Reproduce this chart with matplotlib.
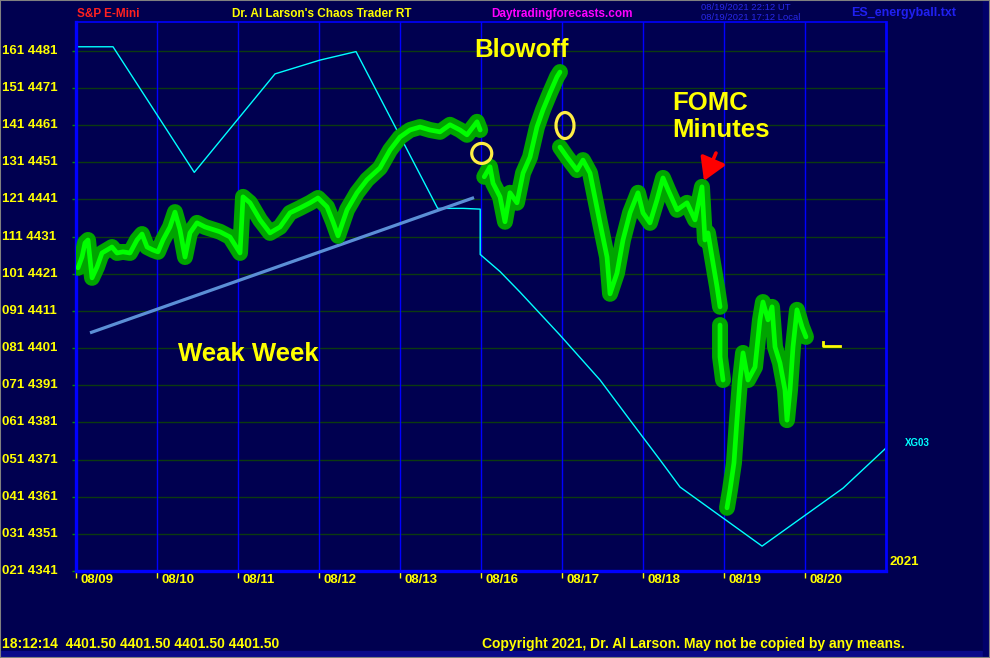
import numpy as np
import matplotlib
matplotlib.use("Agg")
from matplotlib import pyplot as plt
from matplotlib import transforms
from matplotlib.patches import Ellipse, Rectangle

plt.rcParams['font.family'] = ['Liberation Sans', 'DejaVu Sans']

# trading days (one unit per session), x axis runs 0..10
day_labels = ["08/09", "08/10", "08/11", "08/12", "08/13", "08/16", "08/17", "08/18", "08/19", "08/20"]

# price axis
price_ticks = [4341, 4351, 4361, 4371, 4381, 4391, 4401, 4411, 4421, 4431, 4441, 4451, 4461, 4471, 4481]
price_codes = ["021", "031", "041", "051", "061", "071", "081", "091", "101", "111", "121", "131", "141", "151", "161"]

# S&P e-mini path (day position, price); None splits sessions
es_day = [0.025, 0.074, 0.111, 0.148, 0.198, 0.259, 0.321, 0.383, 0.444, 0.506, 0.580, 0.667, 0.753, 0.815,
          0.877, 0.951, 1.012, 1.074, 1.160, 1.222, 1.284, 1.346, 1.407, 1.494, 1.593, 1.778, 1.901, 2.025,
          2.062, 2.148, 2.272, 2.395, 2.519, 2.642, 2.765, 2.889, 2.988, 3.099, 3.173, 3.235, 3.346, 3.469,
          3.593, 3.753, 3.877, 4.000, 4.123, 4.247, 4.370, 4.494, 4.617, 4.741, 4.827, 4.951, 4.990, None,
          5.040, 5.111, 5.148, 5.235, 5.296, 5.358, 5.444, 5.519, 5.605, 5.691, 5.765, 5.852, 5.938, 5.975, None,
          5.975, 6.062, 6.185, 6.259, 6.346, 6.469, 6.556, 6.593, 6.679, 6.753, 6.840, 6.938, 7.000, 7.086,
          7.173, 7.247, 7.309, 7.420, 7.543, 7.642, 7.728, 7.765, 7.802, 7.852, 7.914, 7.951, None,
          7.951, 7.951, 7.988, None,
          8.037, 8.074, 8.123, 8.160, 8.198, 8.235, 8.296, 8.383, 8.444, 8.481, 8.543, 8.593, 8.630, 8.691,
          8.753, 8.778, 8.815, 8.852, 8.901, 8.963, 9.012]
es_price = [4422.6, 4425.5, 4429.3, 4430.1, 4419.9, 4422.8, 4426.6, 4427.4, 4428.2, 4426.6, 4426.9, 4426.6,
            4430.1, 4431.7, 4428.2, 4427.4, 4426.9, 4430.1, 4433.6, 4437.6, 4432.8, 4425.5, 4432.0, 4434.7,
            4433.6, 4432.3, 4430.9, 4426.6, 4441.7, 4440.1, 4435.5, 4432.0, 4433.6, 4437.4, 4438.7, 4440.1,
            4441.4, 4439.0, 4435.0, 4431.2, 4438.2, 4442.8, 4446.3, 4449.5, 4454.3, 4457.8, 4459.7, 4460.5,
            4459.7, 4459.2, 4461.1, 4459.7, 4458.4, 4461.9, 4459.7, None,
            4447.1, 4449.8, 4445.4, 4441.7, 4435.0, 4442.8, 4440.1, 4448.1, 4452.4, 4460.5, 4465.1, 4469.7,
            4474.0, 4475.3, None,
            4455.1, 4452.4, 4448.9, 4451.6, 4448.1, 4434.7, 4425.5, 4415.6, 4421.2, 4430.1, 4437.4, 4442.8,
            4437.4, 4434.7, 4440.9, 4446.8, 4443.6, 4438.2, 4440.1, 4435.5, 4444.4, 4430.1, 4432.0, 4425.5,
            4417.5, 4412.1, None,
            4407.2, 4398.6, 4392.4, None,
            4358.0, 4362.8, 4370.1, 4381.6, 4392.4, 4399.7, 4392.4, 4395.9, 4408.6, 4413.4, 4408.6, 4412.1,
            4401.3, 4397.0, 4389.7, 4381.6, 4389.7, 4401.3, 4411.3, 4406.7, 4404.0]

# XG03 cycle line
xg_day = [0.0, 0.457, 1.460, 2.457, 3.010, 3.457, 4.465, 4.780, 4.990, 4.990, 5.235, 5.480, 5.975, 6.470,
          6.840, 7.210, 7.457, 8.470, 9.470, 10.0]
xg_price = [4482.1, 4482.1, 4448.3, 4474.8, 4478.5, 4480.8, 4438.6, 4438.6, 4438.4, 4426.2, 4421.6, 4416.1,
            4404.5, 4392.4, 4381.6, 4370.9, 4363.6, 4347.7, 4363.3, 4374.1]

# hand drawn trend line and markers
trend_day = [0.173, 4.914]
trend_price = [4405.1, 4441.5]
last_price = 4401.5

BG = '#000050'
YELLOW = '#ffff00'

fig = plt.figure(figsize=(9.9, 6.58), dpi=100, facecolor=BG)
ax = fig.add_axes([76 / 990, 1 - 571 / 658, 810 / 990, 549.5 / 658])
ax.set_facecolor(BG)
ax.set_xlim(0, 10)
ax.set_ylim(4341, 4488.9)

# grid
for p in price_ticks[1:]:
    ax.axhline(p, color='#0c3a10', lw=1.0, zorder=1)
for d in range(1, 10):
    ax.axvline(d, color='#0000ff', lw=1.0, zorder=1)

for side, lw in [('left', 2.4), ('bottom', 2.4), ('right', 2.0), ('top', 1.2)]:
    ax.spines[side].set_color('#0000ff')
    ax.spines[side].set_linewidth(lw)

ax.set_yticks(price_ticks)
ax.set_yticklabels([])
ax.tick_params(axis='y', length=3, width=1, color='#0a8a0a', direction='out')
ax.set_xticks(range(10))
ax.set_xticklabels([])
ax.tick_params(axis='x', length=5, width=1, color=YELLOW, direction='out')

# y labels
ytrans = transforms.blended_transform_factory(fig.transFigure, ax.transData)
for code, p in zip(price_codes, price_ticks):
    ax.text(2 / 990, p, f"{code} {p}", transform=ytrans, color=YELLOW, fontsize=9.5,
            fontweight='bold', ha='left', va='center', clip_on=False)

# x labels
xtrans = transforms.blended_transform_factory(ax.transData, ax.transAxes)
for i, lab in enumerate(day_labels):
    ax.text(i + 0.06, -0.017, lab, transform=xtrans, color=YELLOW, fontsize=9.5,
            fontweight='bold', ha='left', va='center', clip_on=False)

# XG03 line
ax.plot(xg_day, xg_price, color='#00ffff', lw=1.0, zorder=2)

# trend line
ax.plot(trend_day, trend_price, color='#5b8fd6', lw=2.3, zorder=3, solid_capstyle='butt')

# price path
es_x = np.array([np.nan if v is None else v for v in es_day])
es_y = np.array([np.nan if v is None else v for v in es_price])
ax.plot(es_x, es_y, color='#00a400', lw=11.5, solid_capstyle='round', solid_joinstyle='round', zorder=4)
ax.plot(es_x, es_y, color='#00ff00', lw=3.4, solid_capstyle='round', solid_joinstyle='round', zorder=5)

# last price marker
ax.plot([9.222, 9.222, 9.432], [last_price + 1.1, last_price, last_price], color=YELLOW, lw=2, zorder=6)

# circles
ax.add_patch(Ellipse((5.009, 4453.4), 0.247, 5.38, fill=False, ec='#ffee44', lw=2.3, zorder=7))
ax.add_patch(Ellipse((6.037, 4460.9), 0.222, 7.0, fill=False, ec='#ffee44', lw=2.3, zorder=7))

# FOMC arrow
ax.annotate("", xy=(7.753, 4446.0), xytext=(7.901, 4453.5),
            arrowprops=dict(arrowstyle='-|>,head_length=0.75,head_width=0.45', color='#ff0000', lw=2.6,
                            mutation_scale=18, shrinkA=0, shrinkB=0),
            zorder=8)

# annotations
ax.text(5.506, 4481.3, "Blowoff", color=YELLOW, fontsize=18.5, fontweight='bold', ha='center', va='center')
ax.text(7.358, 4463.4, "FOMC\nMinutes", color=YELLOW, fontsize=18.5, fontweight='bold', ha='left',
        va='center', linespacing=1.15)
ax.text(2.123, 4399.4, "Weak Week", color=YELLOW, fontsize=18.5, fontweight='bold', ha='center', va='center')

# header
fig.text(77 / 990, 1 - 14 / 658, "S&P E-Mini", color='#ff2020', fontsize=8.5, fontweight='bold', va='center')
fig.text(232 / 990, 1 - 14 / 658, "Dr. Al Larson's Chaos Trader RT", color=YELLOW, fontsize=8.5,
         fontweight='bold', va='center')
fig.text(491 / 990, 1 - 14 / 658, "Daytradingforecasts.com", color='#ff00ff', fontsize=8.5,
         fontweight='bold', va='center')
fig.text(701 / 990, 1 - 7 / 658, "08/19/2021 22:12 UT", color='#2828e8', fontsize=6.8, va='center')
fig.text(701 / 990, 1 - 17 / 658, "08/19/2021 17:12 Local", color='#2828e8', fontsize=6.8, va='center')
fig.text(851 / 990, 1 - 13 / 658, "ES_energyball.txt", color='#2020f0', fontsize=9, fontweight='bold',
         va='center')

fig.text(905 / 990, 1 - 443 / 658, "XG03", color='#00ffff', fontsize=7, fontweight='bold', va='center')
fig.text(890 / 990, 1 - 562 / 658, "2021", color=YELLOW, fontsize=9.5, fontweight='bold', va='center')

# footer
fig.text(2 / 990, 1 - 644 / 658, "18:12:14  4401.50 4401.50 4401.50 4401.50", color=YELLOW, fontsize=10,
         fontweight='bold', va='center')
fig.text(482 / 990, 1 - 644 / 658, "Copyright 2021, Dr. Al Larson. May not be copied by any means.",
         color=YELLOW, fontsize=10, fontweight='bold', va='center')

# window edges
fig.patches.append(Rectangle((0, 0), 1, 7 / 658, transform=fig.transFigure, color='#0a0a8a', zorder=0))
fig.patches.append(Rectangle((983 / 990, 0), 7 / 990, 1, transform=fig.transFigure, color='#00006a', zorder=0))
fig.patches.append(Rectangle((0, 0), 1, 1, transform=fig.transFigure, fill=False, ec='#808080', lw=1.5,
                             zorder=0))

fig.savefig("out.png", dpi=100, facecolor=BG)
